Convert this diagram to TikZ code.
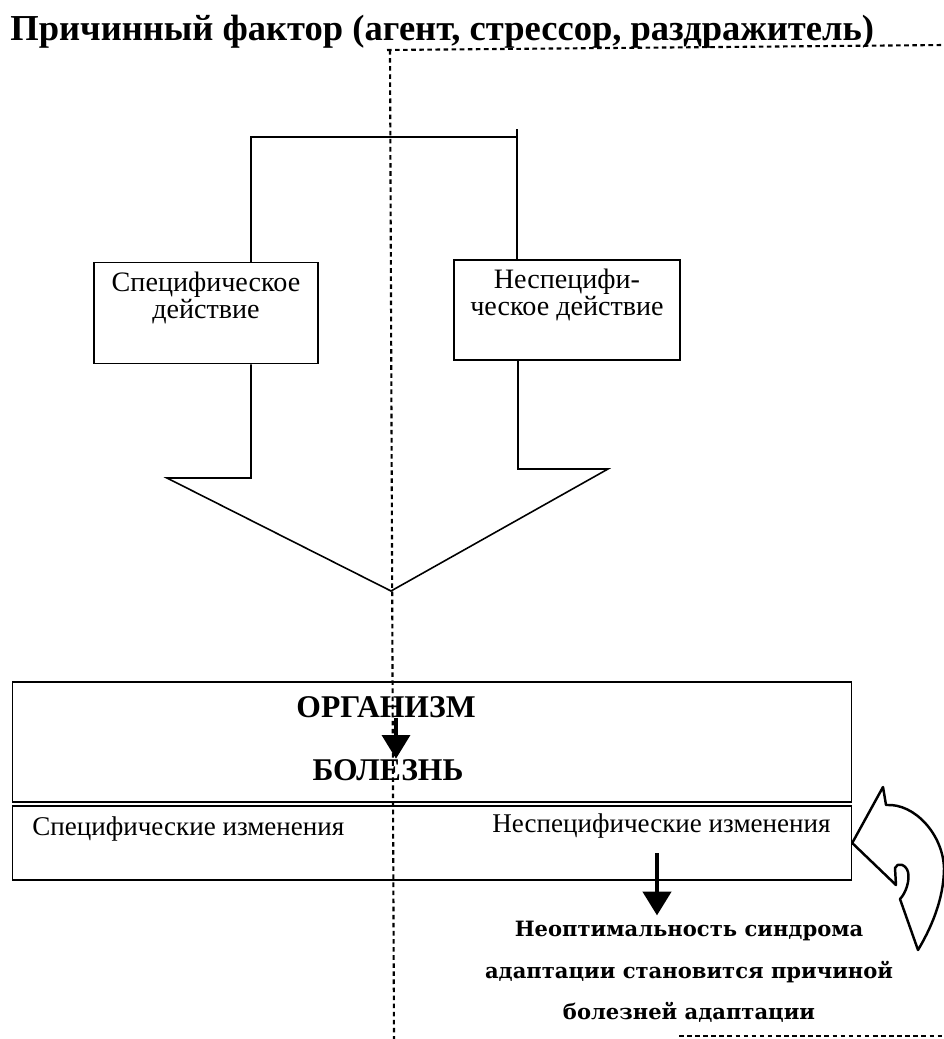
\documentclass[tikz,border=0pt]{standalone}
\usepackage{fontspec}
\setmainfont{Liberation Serif}
\newfontfamily\widefont{DejaVu Serif}
\usetikzlibrary{arrows.meta}

\begin{document}
\begin{tikzpicture}[
    x=0.02cm, y=-0.02cm,
    box/.style={rectangle, draw, line width=0.9pt, inner sep=0pt},
    boxtext/.style={font=\fontsize{16}{15.5}\selectfont, align=center},
    chgtext/.style={font=\fontsize{15.4}{18}\selectfont, inner sep=0pt},
    bigword/.style={font=\fontsize{18}{20}\selectfont\bfseries, inner sep=0pt},
    line/.style={draw, line width=0.9pt},
    divider/.style={draw, line width=1.2pt, dash pattern=on 2.6pt off 2pt},
    downarrow/.style={draw, line width=1.8pt, -{Triangle[length=13.5pt, width=16pt]}},
    turnarrow/.style={draw, line width=1.4pt, line join=round}
]
\useasboundingbox (0,0) rectangle (944,1039);

% Title
\node [anchor=base west, inner sep=0pt, font=\fontsize{20.8}{24}\selectfont\bfseries] (title) at (10,40) {Причинный фактор (агент, стрессор, раздражитель)};

% Dashed boundary
\path [divider] (387,50) -- (944,45);
\path [divider] (390,50) -- (394,1039);
\path [divider] (679,1036) -- (944,1036);

% Action boxes
\node [box, boxtext, minimum width=4.48cm, minimum height=2.02cm] (spec) at (206,313) {Специфическое\\действие\\\strut};
\node [box, boxtext, minimum width=4.52cm, minimum height=2cm] (nonspec) at (567,310) {Неспецифи-\\ческое действие\\\strut};

% Fork from the factor
\coordinate (fork) at (390,137);
\path [line] (spec.north -| 251,0) |- (fork) -| (nonspec.north -| 517,0);
\path [line] (fork -| 517,0) -- ++(0,-8);

% Wide arrow into the organism
\path [line] (spec.south -| 251,0) -- (251,478) -- (167,478) -- (391,591) -- (608,469) -- (518,469) -- (nonspec.south -| 518,0);

% Organism
\node [box, minimum width=16.78cm, minimum height=2.4cm] (organism) at (432,742) {};
\node [bigword, anchor=base] (orgword) at (386,717) {ОРГАНИЗМ};
\node [bigword, anchor=base] (disease) at (388,780) {БОЛЕЗНЬ};
\path [downarrow] (orgword.south -| 396,0) -- (disease.north -| 396,0);

% Changes
\node [box, minimum width=16.78cm, minimum height=1.48cm] (changes) at (432,843) {};
\node [chgtext, anchor=base west] (specchg) at (32,835) {Специфические изменения};
\node [chgtext, anchor=base west] (nonspecchg) at (492,832) {Неспецифические изменения};

% Outcome
\node [font=\widefont\bfseries\fontsize{12}{23.5}\selectfont, align=center] (outcome) at (689,972) {Неоптимальность синдрома\\адаптации становится причиной\\болезней адаптации};
\coordinate (chgout) at (657,853);
\path [downarrow, line width=2.2pt] (chgout) -- (chgout |- outcome.north);

% Feedback arrow
\path [turnarrow] (changes.east) -- (883,787) -- (886,805) .. controls (915,803) and (943,835) .. (944,868) .. controls (944,900) and (930,930) .. (918,950) -- (900,899) .. controls (906,893) and (910,880) .. (908,872) .. controls (906,864) and (897,862) .. (895,868) -- (896,885) -- cycle;

\end{tikzpicture}
\end{document}
